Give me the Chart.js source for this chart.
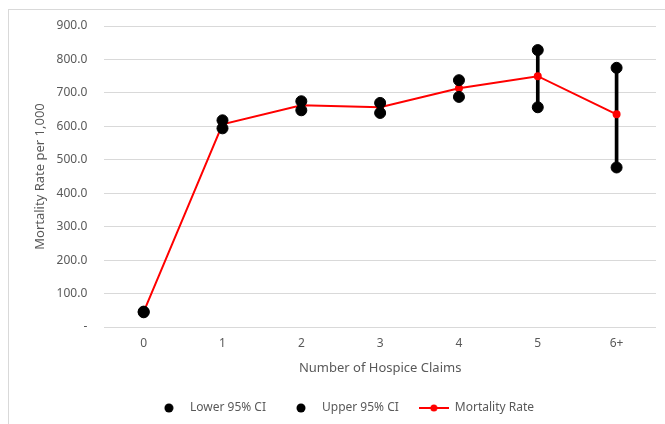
<!DOCTYPE html>
<html>
<head>
<meta charset="utf-8">
<script src="https://cdn.jsdelivr.net/npm/chart.js@4"></script>
<style>
  html, body { margin: 0; padding: 0; background: #fff; }
  #wrap { position: relative; width: 665px; height: 424px; }
  #frame { position: absolute; left: 8px; top: 9px; width: 670px; height: 430px; border: 1px solid #d9d9d9; box-sizing: border-box; }
  canvas { position: absolute; left: 0; top: 0; }
</style>
</head>
<body>
<div id="wrap">
  <div id="frame"></div>
  <canvas id="ciChart" width="665" height="424"></canvas>
</div>
<script>
const claims = ["0", "1", "2", "3", "4", "5", "6+"];
const mortalityRate = [45, 606, 663, 657, 714, 750, 636];
const lowerCI = [44, 594, 648, 640, 688, 657, 477];
const upperCI = [46, 618, 675, 670, 738, 828, 775];
const yTicks = [0, 100, 200, 300, 400, 500, 600, 700, 800, 900];

const textColor = "#595959";
const fontFamily = "'Noto Sans', 'Open Sans', sans-serif";

// legend marker for the line series: red line with a dot
function lineMarker() {
  const c = document.createElement("canvas");
  c.width = 30;
  c.height = 10;
  const g = c.getContext("2d");
  g.strokeStyle = "red";
  g.lineWidth = 2;
  g.beginPath();
  g.moveTo(0, 5);
  g.lineTo(30, 5);
  g.stroke();
  g.fillStyle = "red";
  g.beginPath();
  g.arc(15, 5, 3.5, 0, Math.PI * 2);
  g.fill();
  return c;
}

function dotMarker() {
  const c = document.createElement("canvas");
  c.width = 10;
  c.height = 10;
  const g = c.getContext("2d");
  g.fillStyle = "#000";
  g.beginPath();
  g.arc(5, 5, 4.5, 0, Math.PI * 2);
  g.fill();
  return c;
}

const ctx = document.getElementById("ciChart").getContext("2d");

const chart = new Chart(ctx, {
  data: {
    labels: claims,
    datasets: [
      {
        type: "line",
        label: "Lower 95% CI",
        data: lowerCI,
        showLine: false,
        pointRadius: 5.5,
        pointHoverRadius: 5.5,
        pointBackgroundColor: "#000",
        pointBorderColor: "#000",
        order: 1,
      },
      {
        type: "line",
        label: "Upper 95% CI",
        data: upperCI,
        showLine: false,
        pointRadius: 5.5,
        pointHoverRadius: 5.5,
        pointBackgroundColor: "#000",
        pointBorderColor: "#000",
        order: 0,
      },
      {
        type: "line",
        label: "Mortality Rate",
        data: mortalityRate,
        borderColor: "red",
        borderWidth: 2,
        pointRadius: 3,
        pointBackgroundColor: "red",
        pointBorderColor: "red",
        tension: 0,
        order: 2,
      },
      {
        type: "bar",
        label: "range",
        data: claims.map((c, i) => [lowerCI[i], upperCI[i]]),
        backgroundColor: "#000",
        barThickness: 3,
        order: 3,
      },
    ],
  },
  options: {
    responsive: false,
    animation: false,
    layout: {
      padding: { left: 32, right: 9, top: 26, bottom: 0 },
    },
    plugins: {
      tooltip: { enabled: false },
      legend: {
        position: "bottom",
        labels: {
          color: textColor,
          font: { family: fontFamily, size: 12 },
          usePointStyle: true,
          pointStyleWidth: 30,
          boxHeight: 10,
          padding: 20,
          filter: (item) => item.datasetIndex < 3,
          sort: (a, b) => a.datasetIndex - b.datasetIndex,
          generateLabels: (chart) =>
            chart.data.datasets.map((ds, i) => ({
              text: ds.label,
              datasetIndex: i,
              fontColor: textColor,
              pointStyle: i === 2 ? lineMarker() : dotMarker(),
              hidden: false,
              lineWidth: 0,
            })),
        },
      },
    },
    scales: {
      x: {
        offset: true,
        grid: { display: false, drawTicks: false },
        border: { display: false },
        ticks: {
          color: textColor,
          font: { family: fontFamily, size: 12 },
          padding: 9,
        },
        title: {
          display: true,
          text: "Number of Hospice Claims",
          color: textColor,
          font: { family: fontFamily, size: 13 },
          padding: { top: 1, bottom: 6 },
        },
      },
      y: {
        min: 0,
        max: 900,
        afterBuildTicks: (axis) => {
          axis.ticks = yTicks.map((v) => ({ value: v }));
        },
        grid: { color: "#d9d9d9", drawTicks: false, lineWidth: 1 },
        border: { display: false },
        ticks: {
          color: textColor,
          font: { family: fontFamily, size: 12 },
          padding: 17,
          callback: (v) => (v === 0 ? "-" : v.toFixed(1)),
        },
        title: {
          display: true,
          text: "Mortality Rate per 1,000",
          color: textColor,
          font: { family: fontFamily, size: 13 },
          padding: { top: 0, bottom: -8 },
        },
      },
    },
  },
});
</script>
</body>
</html>
